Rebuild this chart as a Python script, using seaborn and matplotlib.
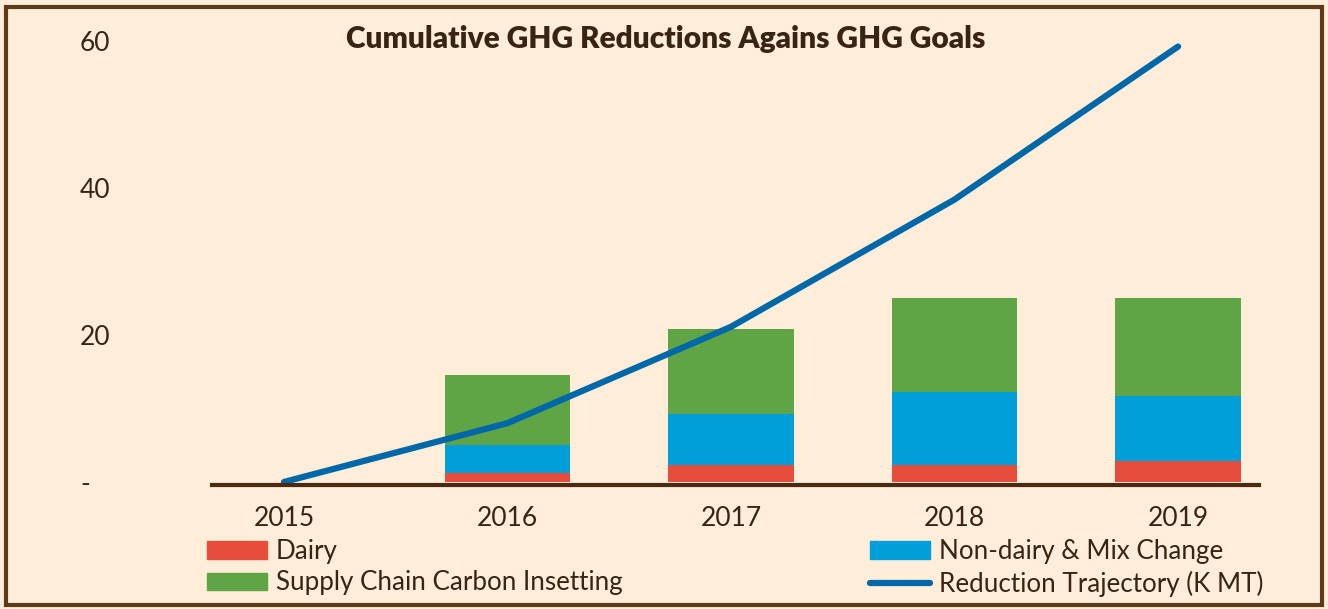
import numpy as np
import pandas as pd
import seaborn as sns
import matplotlib.pyplot as plt
from matplotlib.patches import Patch, Rectangle
from matplotlib.lines import Line2D

# values (K MT)
years = ['2015', '2016', '2017', '2018', '2019']
dairy = [0, 1.2, 2.3, 2.3, 2.9]
non_dairy = [0, 3.8, 6.9, 10.0, 8.8]
insetting = [0, 9.5, 11.6, 12.7, 13.3]
trajectory = [0, 8.0, 21.1, 38.4, 59.2]

bg = '#FDEDD9'
txt = '#3B2314'
c_dairy = '#E64D3A'
c_nondairy = '#009FDA'
c_inset = '#60A545'
c_line = '#0068A8'

df = pd.DataFrame({'year': years, 'dairy': dairy, 'non_dairy': non_dairy,
                   'insetting': insetting, 'trajectory': trajectory})
df['lvl1'] = df['dairy']
df['lvl2'] = df['lvl1'] + df['non_dairy']
df['lvl3'] = df['lvl2'] + df['insetting']

sns.set_theme(style='white')
plt.rcParams['font.family'] = ['Lato', 'DejaVu Sans']

fig = plt.figure(figsize=(13.28, 6.09), dpi=100)
fig.patch.set_facecolor(bg)
ax = fig.add_axes([212 / 1328, 1 - 484.7 / 609, 1047 / 1328, 461.7 / 609])
ax.set_facecolor(bg)

# stacked bars: draw cumulative totals from the top down
for col, color in [('lvl3', c_inset), ('lvl2', c_nondairy), ('lvl1', c_dairy)]:
    sns.barplot(data=df, x='year', y=col, color=color, width=0.56,
                saturation=1, edgecolor=color, linewidth=0, ax=ax)

xpos = np.arange(len(years))
sns.lineplot(x=xpos, y=df['trajectory'], color=c_line, linewidth=4.5, ax=ax,
             solid_capstyle='round')

ax.set_xlim(-0.322, 4.362)
ax.set_ylim(-0.37, 62.4)
ax.set_xlabel('')
ax.set_ylabel('')
ax.set_yticks([0, 20, 40, 60])
ax.set_yticklabels(['-', '20', '40', '60'])
for lab in ax.get_yticklabels():
    lab.set_horizontalalignment('left')
ax.tick_params(axis='y', length=0, pad=95, labelsize=19, labelcolor=txt)
ax.tick_params(axis='x', length=0, pad=15, labelsize=19, labelcolor=txt)

for s in ['top', 'right', 'left']:
    ax.spines[s].set_visible(False)
ax.spines['bottom'].set_color('#4A2A12')
ax.spines['bottom'].set_linewidth(3)

fig.text(0.501, 1 - 39 / 609, 'Cumulative GHG Reductions Agains GHG Goals',
         ha='center', va='center', fontsize=21.5, fontweight='heavy', color=txt)

leg_kw = dict(frameon=False, fontsize=18.7, labelcolor=txt, handlelength=2.3,
              handleheight=0.65, handletextpad=0.35, labelspacing=0.25,
              borderpad=0, borderaxespad=0, loc='upper left')
fig.legend(handles=[Patch(color=c_dairy, label='Dairy'),
                    Patch(color=c_inset, label='Supply Chain Carbon Insetting')],
           bbox_to_anchor=(207 / 1328, 1 - 539 / 609), **leg_kw)
fig.legend(handles=[Patch(color=c_nondairy, label='Non-dairy & Mix Change'),
                    Line2D([], [], color=c_line, linewidth=4.5,
                           label='Reduction Trajectory (K MT)')],
           bbox_to_anchor=(870 / 1328, 1 - 539 / 609), **leg_kw)

# brown frame around the whole picture
fig.patches.append(Rectangle((6 / 1328, 4 / 609), 1 - 12 / 1328, 1 - 11 / 609,
                             transform=fig.transFigure, fill=False,
                             edgecolor='#5E3A1A', linewidth=3))

fig.savefig('out.png', dpi=100, facecolor=bg)
